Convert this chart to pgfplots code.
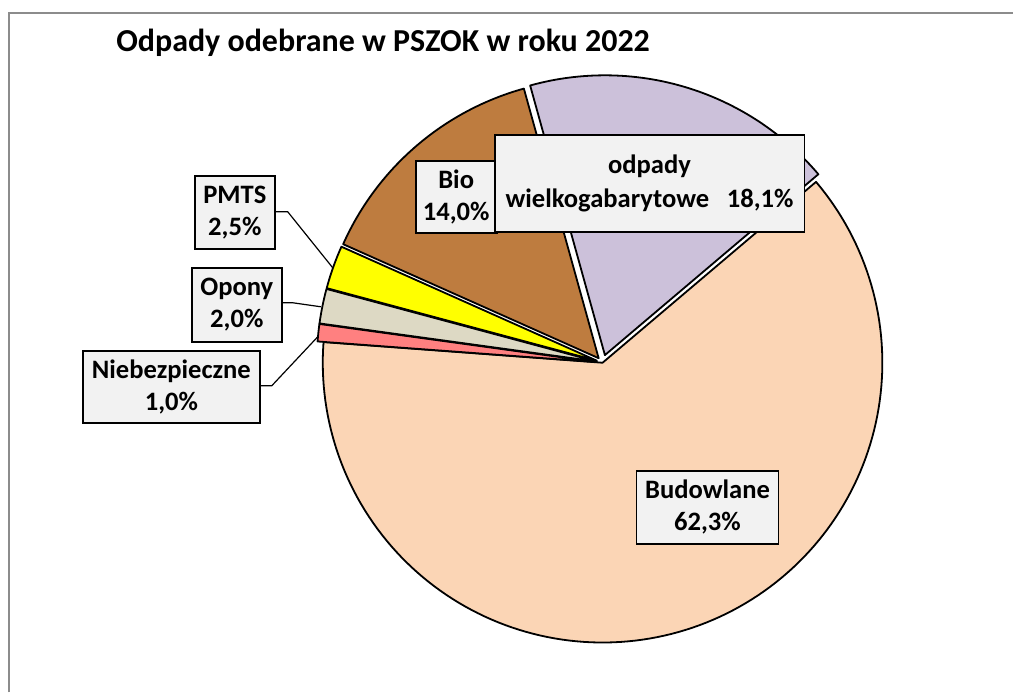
\documentclass[border=0pt]{standalone}
\usepackage{pgfplots}
\pgfplotsset{compat=1.18}
\usepackage{pgfplotstable}
\usepackage{fontspec}
\setmainfont{Carlito}

\definecolor{cpeach}{HTML}{FBD5B5}
\definecolor{clilac}{HTML}{CCC1DA}
\definecolor{cbrown}{HTML}{BE7C3F}
\definecolor{cyellow}{HTML}{FFFF00}
\definecolor{copony}{HTML}{DDD9C4}
\definecolor{cpink}{HTML}{FF8080}
\definecolor{cbox}{HTML}{F2F2F2}
\definecolor{cframe}{HTML}{8C8C8C}

\tikzset{
  slice/.style={draw=black, line width=0.9pt, line join=round},
  lbl/.style={draw=black, line width=0.9pt, fill=cbox, align=center, inner sep=0pt,
    font=\bfseries\fontsize{13.3}{16.2}\selectfont},
}

% slice values in percent, in Excel order (clockwise from the start angle)
\pgfplotstableread{
idx name value explode
0 wielkogabarytowe 18.1 8
1 Budowlane 62.3 0
2 Niebezpieczne 1.0 6
3 Opony 2.0 6
4 PMTS 2.5 6
5 Bio 14.0 6
}\piedata

\def\cur{105.5}
\newcommand\getslice[2]{%
  \pgfplotstablegetelem{#1}{value}\of\piedata \let\sval\pgfplotsretval
  \pgfplotstablegetelem{#1}{explode}\of\piedata \let\sex\pgfplotsretval
  \pgfmathsetmacro\slo{\cur - \sval/99.9*360}%
  \pgfmathsetmacro\smidang{(\cur+\slo)/2}%
  \expandafter\let\csname #2hi\endcsname\cur
  \expandafter\let\csname #2lo\endcsname\slo
  \pgfmathsetmacro\tmpx{603+\sex*cos(\smidang)}%
  \pgfmathsetmacro\tmpy{363-\sex*sin(\smidang)}%
  \expandafter\let\csname #2cx\endcsname\tmpx
  \expandafter\let\csname #2cy\endcsname\tmpy
  \let\cur\slo
}
\getslice{0}{A}
\getslice{1}{B}
\getslice{2}{C}
\getslice{3}{D}
\getslice{4}{E}
\getslice{5}{F}

\begin{document}
\begin{tikzpicture}
\begin{axis}[
  scale only axis, width=507pt, height=346.5pt,
  xmin=0, xmax=1014, ymin=0, ymax=693, y dir=reverse,
  axis lines=none, clip=false,
]
\path (axis cs:0,0) rectangle (axis cs:1014,693);
\draw[cframe, line width=0.75pt] (axis cs:9,693) -- (axis cs:9,13) -- (axis cs:1014,13);

\addplot[slice, fill=cpeach, variable=\t, domain=\Blo:\Bhi, samples=150]
  ({\Bcx + 280*cos(\t)}, {\Bcy - 280*sin(\t)}) -- (axis cs:\Bcx,\Bcy) -- cycle;
\addplot[slice, fill=clilac, variable=\t, domain=\Alo:\Ahi, samples=60]
  ({\Acx + 280*cos(\t)}, {\Acy - 280*sin(\t)}) -- (axis cs:\Acx,\Acy) -- cycle;
\addplot[slice, fill=cpink, variable=\t, domain=\Clo:\Chi, samples=6]
  ({\Ccx + 280*cos(\t)}, {\Ccy - 280*sin(\t)}) -- (axis cs:\Ccx,\Ccy) -- cycle;
\addplot[slice, fill=copony, variable=\t, domain=\Dlo:\Dhi, samples=8]
  ({\Dcx + 280*cos(\t)}, {\Dcy - 280*sin(\t)}) -- (axis cs:\Dcx,\Dcy) -- cycle;
\addplot[slice, fill=cyellow, variable=\t, domain=\Elo:\Ehi, samples=10]
  ({\Ecx + 280*cos(\t)}, {\Ecy - 280*sin(\t)}) -- (axis cs:\Ecx,\Ecy) -- cycle;
\addplot[slice, fill=cbrown, variable=\t, domain=\Flo:\Fhi, samples=50]
  ({\Fcx + 280*cos(\t)}, {\Fcy - 280*sin(\t)}) -- (axis cs:\Fcx,\Fcy) -- cycle;

% leader lines
\draw[black, line width=0.6pt] (axis cs:276,212) -- (axis cs:288,212) -- (axis cs:333,268);
\draw[black, line width=0.6pt] (axis cs:282,303) -- (axis cs:293,303) -- (axis cs:321,307);
\draw[black, line width=0.6pt] (axis cs:260,386) -- (axis cs:272,386) -- (axis cs:318,337);

% title
\node[anchor=base west, inner sep=0pt, font=\bfseries\fontsize{16}{19}\selectfont]
  at (axis cs:116,52) {Odpady odebrane w PSZOK w roku 2022};

% labels
\node[lbl, minimum width=40.5pt, minimum height=36pt] at (axis cs:456.5,197) {Bio\\14,0\%};
\node[lbl, minimum width=155pt, minimum height=48.5pt] at (axis cs:650,183.5)
  {odpady\\[0.5pt]\makebox[144pt]{wielkogabarytowe\hfill18,1\%}};
\node[lbl, minimum width=40pt, minimum height=36.5pt] at (axis cs:235,212.5) {PMTS\\2,5\%};
\node[lbl, minimum width=45pt, minimum height=37pt] at (axis cs:237,305) {Opony\\2,0\%};
\node[lbl, minimum width=88.5pt, minimum height=36pt] at (axis cs:171.5,387) {Niebezpieczne\\1,0\%};
\node[lbl, minimum width=71pt, minimum height=36.5pt] at (axis cs:708,507.5) {Budowlane\\62,3\%};
\end{axis}
\end{tikzpicture}
\end{document}
